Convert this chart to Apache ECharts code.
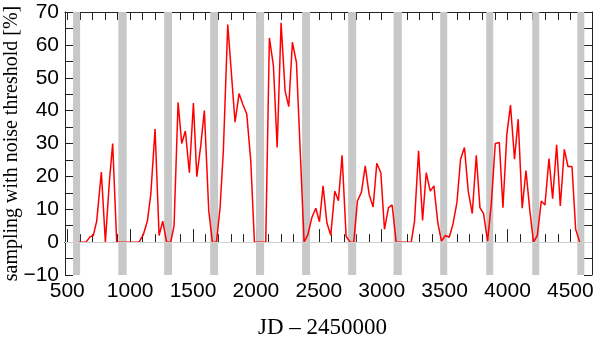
<!DOCTYPE html>
<html>
<head>
<meta charset="utf-8">
<script src="https://cdn.jsdelivr.net/npm/echarts@6/dist/echarts.min.js"></script>
<style>
  html, body { margin: 0; padding: 0; background: #fff; }
  #chart { width: 600px; height: 340px; }
</style>
</head>
<body>
<div id="chart"></div>
<script>
// JD - 2450000 of each sample
var jd = [590, 649, 681, 707, 734, 771, 803, 834, 861, 893, 1070,
  1105, 1137, 1164, 1198, 1230, 1259, 1290, 1322, 1349, 1381, 1410, 1439,
  1471, 1503, 1530, 1561, 1590, 1625, 1654, 1686, 1715, 1741, 1776, 1834,
  1866, 1895, 1927, 1959, 1988, 2078, 2107, 2139, 2169, 2200, 2232, 2261,
  2290, 2322, 2383, 2413, 2444, 2476, 2505, 2534, 2564, 2595, 2627, 2656,
  2685, 2717, 2749, 2778, 2807, 2839, 2869, 2900, 2932, 2961, 2993, 3022,
  3054, 3083, 3115, 3235, 3261, 3293, 3325, 3354, 3386, 3415, 3446, 3475,
  3507, 3537, 3566, 3598, 3627, 3658, 3688, 3720, 3752, 3781, 3810, 3842,
  3871, 3903, 3935, 3964, 3995, 4024, 4056, 4085, 4117, 4147, 4178, 4207,
  4237, 4269, 4298, 4330, 4359, 4391, 4420, 4452, 4481, 4513, 4542, 4574];
// sampling with noise threshold [%]
var pct = [0, 0, 1.6, 2, 6.4, 21.3, 0, 18, 30, 0, 0,
  2.3, 6.4, 14.5, 34.4, 2, 6.4, 0, 0, 4.9, 42.5, 30, 33.8,
  21.1, 42.3, 19.9, 29.3, 40, 9.5, 0, 0, 10.5, 27.8, 66.2, 36.5,
  45.2, 42, 39, 24.7, 0, 0, 62.1, 53.7, 28.8, 66.7, 46, 41.2,
  60.8, 54.7, 0, 2.3, 7.4, 10.3, 6.2, 17.1, 5.9, 2.1, 15.5, 12.6,
  26.4, 1.8, 0, 0, 12.5, 15.2, 23.2, 14.5, 10.7, 24, 21.1, 3.9,
  10.5, 11.3, 0, 0, 6.4, 27.8, 6.6, 21.1, 15.5, 17.1, 5.9, 0.3,
  2, 1.5, 5.4, 12, 25.2, 28.8, 15.5, 8.7, 26.4, 10.5, 8.7, 0.3,
  11.5, 30, 30.3, 10.5, 32.8, 41.7, 25.2, 37.4, 10.3, 21.8, 9.5, 0,
  2, 12.5, 11.3, 25.4, 13.2, 29.6, 11, 28.2, 23, 23, 3.9, 0];
// grey bands (start, end)
var gapStart = [546, 906, 1270, 1636, 2001, 2367, 2733, 3094, 3465, 3831, 4197, 4555];
var gapEnd = [602, 972, 1333, 1699, 2065, 2431, 2797, 3160, 3521, 3887, 4253, 4611];
var majorTicks = [500, 1000, 1500, 2000, 2500, 3000, 3500, 4000, 4500];
var minorTicks = [];
for (var t = 500; t <= 4600; t += 100) minorTicks.push(t);

var xMin = 482, xMax = 4672;
var frame = '#222';

var chart = echarts.init(document.getElementById('chart'));

var points = jd.map(function (x, i) { return [x, pct[i]]; });
var bands = gapStart.map(function (s, i) {
  return [{ xAxis: s }, { xAxis: gapEnd[i] }];
});

function xAx(opts) {
  return Object.assign({
    type: 'value', min: xMin, max: xMax,
    axisLine: { show: true, lineStyle: { color: frame, width: 1 } },
    splitLine: { show: false },
    axisLabel: { show: false },
    axisTick: { show: false }
  }, opts);
}

chart.setOption({
  animation: false,
  grid: { left: 65, right: 8, top: 12, bottom: 65, outerBoundsMode: 'none' },
  xAxis: [
    xAx({
      position: 'bottom',
      name: 'JD \u2013 2450000',
      nameLocation: 'middle',
      nameGap: 41,
      nameMoveOverlap: false,
      nameTextStyle: { fontFamily: 'Liberation Serif', fontSize: 23, color: '#000',
        padding: [0, 12, 0, 0] },
      axisTick: { show: true, inside: true, length: 13, customValues: majorTicks,
        lineStyle: { color: frame } },
      axisLabel: { show: true, customValues: majorTicks, margin: 6,
        fontFamily: 'Liberation Sans', fontSize: 21, color: '#000',
        formatter: function (v) { return String(v); } }
    }),
    xAx({
      position: 'bottom',
      axisTick: { show: true, inside: true, length: 8, customValues: minorTicks,
        lineStyle: { color: frame } }
    }),
    xAx({
      position: 'top',
      axisTick: { show: true, inside: true, length: 8, customValues: minorTicks,
        lineStyle: { color: frame } }
    })
  ],
  yAxis: [
    {
      type: 'value', min: -10, max: 70, interval: 10, position: 'left',
      name: 'sampling with noise threshold [%]',
      nameLocation: 'middle',
      nameGap: 43,
      nameMoveOverlap: false,
      nameTextStyle: { fontFamily: 'Liberation Serif', fontSize: 20, color: '#000' },
      axisLine: { show: true, lineStyle: { color: frame } },
      axisTick: { show: true, inside: true, length: 8, lineStyle: { color: frame } },
      minorTick: { show: true, splitNumber: 2, length: 8, lineStyle: { color: frame } },
      splitLine: { show: false },
      axisLabel: { margin: 6, fontFamily: 'Liberation Sans', fontSize: 21, color: '#000',
        formatter: function (v) { return v < 0 ? '\u2212' + (-v) : String(v); } }
    },
    {
      type: 'value', min: -10, max: 70, interval: 10, position: 'right',
      axisLine: { show: true, lineStyle: { color: frame } },
      axisTick: { show: true, inside: true, length: 8, lineStyle: { color: frame } },
      minorTick: { show: true, splitNumber: 2, length: 8, lineStyle: { color: frame } },
      splitLine: { show: false },
      axisLabel: { show: false }
    }
  ],
  series: [
    {
      type: 'line',
      xAxisIndex: 0,
      yAxisIndex: 0,
      data: points,
      symbol: 'none',
      lineStyle: { color: '#ff0000', width: 1.5 },
      z: 3,
      markArea: {
        silent: true,
        itemStyle: { color: '#c8c8c8' },
        data: bands
      },
      markLine: {
        silent: true,
        symbol: 'none',
        label: { show: false },
        lineStyle: { color: '#d0d0d0', width: 1, type: 'solid' },
        data: [{ yAxis: 0 }]
      }
    }
  ]
});
</script>
</body>
</html>
